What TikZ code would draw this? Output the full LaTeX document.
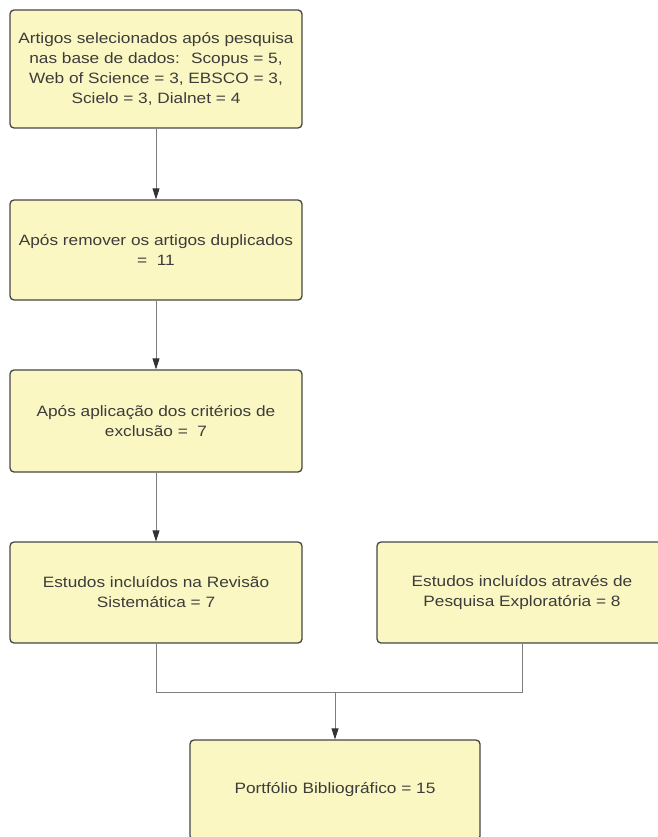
\documentclass[tikz,border=0pt]{standalone}
\usepackage{fontspec}
\setmainfont{Liberation Sans}[FakeStretch=1.15]
\usetikzlibrary{arrows.meta}
\definecolor{boxfill}{RGB}{250,247,194}
\definecolor{boxline}{RGB}{70,70,70}
\definecolor{txt}{RGB}{60,60,60}
\definecolor{conn}{RGB}{125,125,125}
\begin{document}
\begin{tikzpicture}[x=1pt,y=-1pt,
  fbox/.style={draw=boxline, fill=boxfill, line width=1.3pt, rounded corners=4pt,
    minimum width=292pt, align=center, text=txt, inner sep=0pt,
    font=\fontsize{15}{20}\selectfont},
  connline/.style={draw=conn, line width=0.9pt},
  arr/.style={connline, -{Triangle[length=11pt,width=7pt,color=black!80]}}]
\useasboundingbox (0,0) rectangle (657,837);
\node[fbox, minimum height=118pt] (b1) at (156,69) {Artigos selecionados após pesquisa\\nas base de dados:~ Scopus = 5,\\Web of Science = 3, EBSCO = 3,\\Scielo = 3, Dialnet = 4};
\node[fbox, minimum height=100pt] (b2) at (156,250) {Após remover os artigos duplicados\\=~ 11};
\node[fbox, minimum height=102pt] (b3) at (156,421) {Após aplicação dos critérios de\\exclusão =~ 7};
\node[fbox, minimum height=101pt] (b4) at (156,592.5) {Estudos incluídos na Revisão\\Sistemática = 7};
\node[fbox, minimum width=290pt, minimum height=101pt] (b5) at (522,592.5) {Estudos incluídos através de\\Pesquisa Exploratória = 8};
\node[fbox, minimum width=290pt, minimum height=100pt] (b6) at (335,790) {\raisebox{2pt}{Portfólio Bibliográfico = 15}};
\coordinate (jl) at (156,692);
\coordinate (jr) at (522,692);
\coordinate (jm) at (335,692);
\draw[arr] (b1.south) -- (b2.north);
\draw[arr] (b2.south) -- (b3.north);
\draw[arr] (b3.south) -- (b4.north);
\draw[connline] (b4.south) -- (jl) -- (jr) -- (b5.south);
\draw[arr] (jm) -- (b6.north);
\end{tikzpicture}
\end{document}
